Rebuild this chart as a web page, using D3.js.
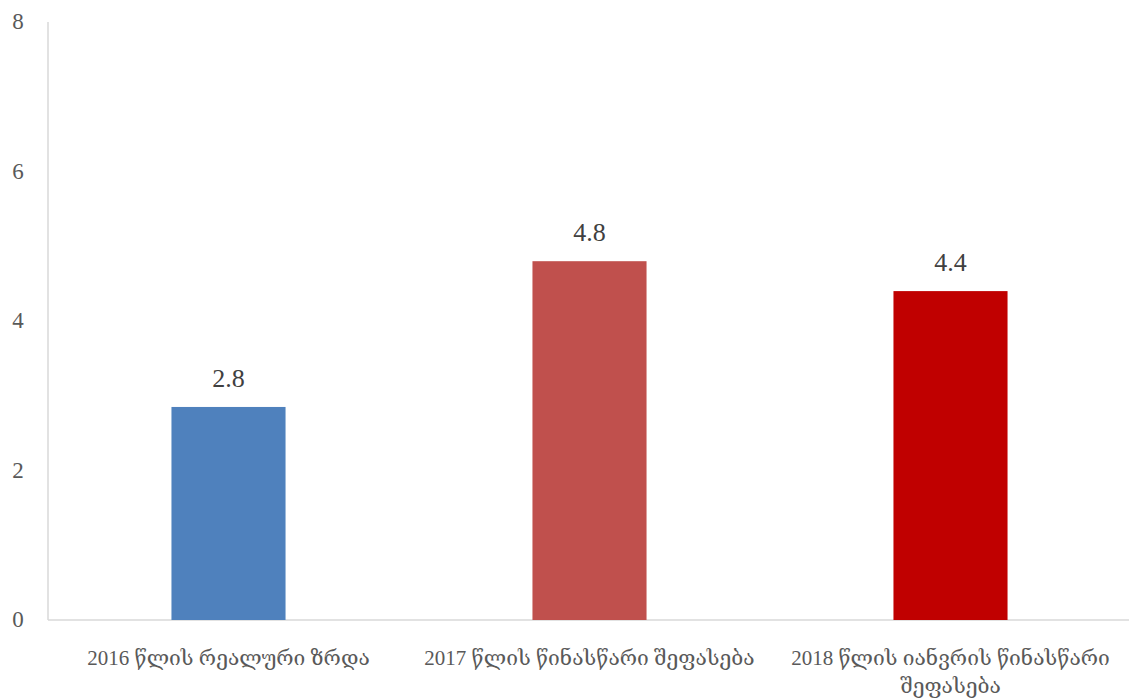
<!DOCTYPE html>
<html><head><meta charset="utf-8">
<script src="https://cdn.jsdelivr.net/npm/d3@7"></script>
<style>
html,body{margin:0;padding:0;background:#fff;}
svg text{font-family:"Liberation Serif","DejaVu Serif",serif;}
</style></head>
<body><svg id="c" width="1129" height="700"></svg>
<script>
const categories = [["2016 წლის რეალური ზრდა"], ["2017 წლის წინასწარი შეფასება"], ["2018 წლის იანვრის წინასწარი", "შეფასება"]];
const values = [2.85, 4.8, 4.4];
const valueLabels = ["2.8", "4.8", "4.4"];
const colors = ["#4f81bd", "#c0504d", "#c00000"];
const yTicks = [0, 2, 4, 6, 8];

const svg = d3.select("#c");
const x0 = 48, x1 = 1131, yTop = 22, yBot = 620;
const x = d3.scaleBand().domain(d3.range(values.length)).range([x0, x1]).paddingInner(0.684).paddingOuter(0.342);
const y = d3.scaleLinear().domain([0, 8]).range([yBot, yTop]);

// axes lines
svg.append("line").attr("x1", x0).attr("x2", x0).attr("y1", yTop).attr("y2", yBot)
  .attr("stroke", "#d9d9d9").attr("stroke-width", 1.5);
svg.append("line").attr("x1", x0).attr("x2", 1129).attr("y1", yBot).attr("y2", yBot)
  .attr("stroke", "#d9d9d9").attr("stroke-width", 1.5);

// y tick labels
svg.selectAll("text.yt").data(yTicks).enter().append("text")
  .attr("class", "yt").attr("x", 18).attr("y", d => y(d)).attr("dy", "0.32em")
  .attr("text-anchor", "middle").attr("font-size", 23).attr("fill", "#595959").text(d => d);

// bars
svg.selectAll("rect.bar").data(values).enter().append("rect")
  .attr("x", (d, i) => x(i)).attr("width", x.bandwidth())
  .attr("y", d => y(d)).attr("height", d => yBot - y(d))
  .attr("fill", (d, i) => colors[i]);

// value labels
svg.selectAll("text.vl").data(values).enter().append("text")
  .attr("x", (d, i) => x(i) + x.bandwidth() / 2).attr("y", d => y(d) - 20)
  .attr("text-anchor", "middle").attr("font-size", 26).attr("fill", "#404040")
  .text((d, i) => valueLabels[i]);

// category labels
categories.forEach((lines, i) => {
  const t = svg.append("text").attr("text-anchor", "middle").attr("font-size", 21).attr("fill", "#595959")
    .attr("x", x(i) + x.bandwidth() / 2).attr("y", 665);
  lines.forEach((ln, j) => t.append("tspan").attr("x", x(i) + x.bandwidth() / 2).attr("dy", j ? 28 : 0).text(ln));
});
</script></body></html>
